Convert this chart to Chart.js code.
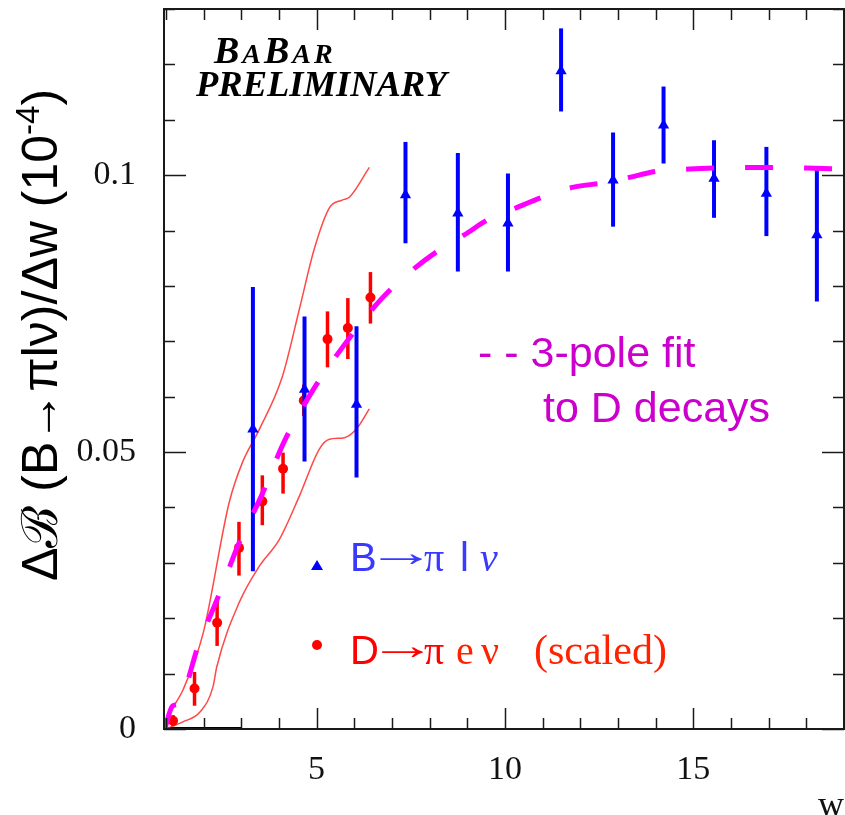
<!DOCTYPE html>
<html><head><meta charset="utf-8">
<script src="https://cdn.jsdelivr.net/npm/chart.js@4.4.1/dist/chart.umd.min.js"></script>
<style>html,body{margin:0;padding:0;background:#fff;overflow:hidden}</style>
</head><body>
<canvas id="c" width="845" height="815" style="width:845px;height:815px;display:block"></canvas>
<script>
// ---- data ----
const bX  = [3.31, 4.68, 6.06, 7.36, 8.75, 10.08, 11.49, 12.87, 14.21, 15.55, 16.94, 18.28];
const bY  = [0.0541, 0.0613, 0.0586, 0.0964, 0.0931, 0.0913, 0.1188, 0.0991, 0.1090, 0.0994, 0.0967, 0.0892];
const bLo = [0.0285, 0.0483, 0.0454, 0.0877, 0.0826, 0.0826, 0.1115, 0.0907, 0.1021, 0.0923, 0.0890, 0.0772];
const bHi = [0.0798, 0.0745, 0.0727, 0.1060, 0.1040, 0.1003, 0.1265, 0.1077, 0.1160, 0.1063, 0.1051, 0.1013];

const dX  = [1.19, 1.76, 2.36, 2.94, 3.56, 4.11, 4.66, 5.29, 5.83, 6.43];
const dY  = [0.0015, 0.0073, 0.0192, 0.0327, 0.0411, 0.0470, 0.0593, 0.0704, 0.0724, 0.0779];
const dLo = [0.0005, 0.0042, 0.0150, 0.0277, 0.0368, 0.0425, 0.0565, 0.0653, 0.0668, 0.0732];
const dHi = [0.0025, 0.0103, 0.0231, 0.0374, 0.0458, 0.0499, 0.0622, 0.0754, 0.0778, 0.0825];

const fitX = [0.97, 1.17, 1.33, 1.89, 2.36, 2.95, 3.53, 4.14, 4.86, 5.74, 6.74, 7.64, 8.26, 8.92, 9.53, 10.30, 10.99, 11.79, 12.72, 13.30, 14.04, 14.89, 15.61, 16.43, 17.20, 18.00, 19.00];
const fitY = [0.0000, 0.0041, 0.0046, 0.0157, 0.0234, 0.0337, 0.0420, 0.0519, 0.0607, 0.0694, 0.0778, 0.0834, 0.0865, 0.0892, 0.0919, 0.0941, 0.0960, 0.0978, 0.0987, 0.0996, 0.1007, 0.1011, 0.1013, 0.1014, 0.1014, 0.1013, 0.1011];

const upX = [0.97, 1.11, 1.45, 1.99, 2.68, 3.03, 3.48, 4.09, 4.54, 4.94, 5.34, 5.68, 5.87, 6.40];
const upY = [0.0004, 0.0029, 0.0070, 0.0173, 0.0409, 0.0481, 0.0541, 0.0636, 0.0757, 0.0867, 0.0941, 0.0955, 0.0960, 0.1014];
const loX = [1.02, 1.45, 1.91, 2.25, 2.35, 2.95, 3.48, 4.01, 4.54, 5.07, 5.34, 5.74, 6.05, 6.40];
const loY = [0.0001, 0.0013, 0.0031, 0.0076, 0.0112, 0.0229, 0.0294, 0.0342, 0.0420, 0.0505, 0.0523, 0.0526, 0.0541, 0.0578];

const baseX = [0.95, 3.0];
const baseY = [0, 0];

const xTicks = [1,2,3,4,5,6,7,8,9,10,11,12,13,14,15,16,17,18,19];
const xTickLabels = [5, 10, 15];
const yTicks = [0,0.01,0.02,0.03,0.04,0.05,0.06,0.07,0.08,0.09,0.1,0.11,0.12,0.13];
const yTickLabels = [0, 0.05, 0.1];

const pts = (xs, ys) => xs.map((x, i) => ({x, y: ys[i]}));

const SANS = '"Liberation Sans", Arial, sans-serif';
const SERIF = '"Liberation Serif", "Times New Roman", serif';

// error bars drawn just before the dataset they belong to
const errorBars = {
  id: 'errorBars',
  beforeDatasetDraw(chart, args) {
    const ds = chart.data.datasets[args.index];
    if (!ds.err) return;
    const {xs, lo, hi, color, width} = ds.err;
    const sx = chart.scales.x, sy = chart.scales.y, ctx = chart.ctx;
    const a = chart.chartArea;
    ctx.save();
    ctx.beginPath();
    ctx.rect(a.left, a.top, a.right - a.left, a.bottom - a.top);
    ctx.clip();
    ctx.strokeStyle = color; ctx.lineWidth = width; ctx.lineCap = 'butt';
    xs.forEach((x, i) => {
      const px = sx.getPixelForValue(x);
      ctx.beginPath();
      ctx.moveTo(px, sy.getPixelForValue(lo[i]));
      ctx.lineTo(px, sy.getPixelForValue(hi[i]));
      ctx.stroke();
    });
    ctx.restore();
  }
};

// frame with inward ticks on all four sides
const frame = {
  id: 'frame',
  afterDatasetsDraw(chart) {
    const {ctx, chartArea: a, scales: {x: sx, y: sy}} = chart;
    ctx.save();
    ctx.strokeStyle = '#1a1a1a';
    ctx.lineWidth = 1.5;
    sx.ticks.forEach(t => {
      const px = Math.round(sx.getPixelForValue(t.value)) + 0.5;
      const len = xTickLabels.includes(t.value) ? 21 : 11;
      ctx.beginPath();
      ctx.moveTo(px, a.bottom); ctx.lineTo(px, a.bottom - len);
      ctx.moveTo(px, a.top); ctx.lineTo(px, a.top + len);
      ctx.stroke();
    });
    sy.ticks.forEach(t => {
      const py = Math.round(sy.getPixelForValue(t.value)) + 0.5;
      const len = yTickLabels.includes(t.value) ? 22 : 11;
      ctx.beginPath();
      ctx.moveTo(a.left, py); ctx.lineTo(a.left + len, py);
      ctx.moveTo(a.right, py); ctx.lineTo(a.right - len, py);
      ctx.stroke();
    });
    ctx.lineWidth = 2;
    ctx.strokeRect(a.left, a.top, a.right - a.left, a.bottom - a.top);
    ctx.restore();
  }
};

// draw text pieces: [text, font, color, x, dy, scaleX]
function pieces(ctx, y, list) {
  for (const p of list) {
    ctx.font = p[1];
    if (p[2]) ctx.fillStyle = p[2];
    const sx = p[5] || 1;
    ctx.save();
    ctx.translate(p[3], y + (p[4] || 0));
    ctx.scale(sx, 1);
    ctx.fillText(p[0], 0, 0);
    ctx.restore();
  }
}
function runs(ctx, x, y, parts, spacing) {
  for (const p of parts) {
    ctx.font = p[1];
    if (p[2]) ctx.fillStyle = p[2];
    ctx.fillText(p[0], x, y + (p[3] || 0));
    x += ctx.measureText(p[0]).width + (spacing || 0);
  }
  return x;
}
function runsWidth(ctx, parts) {
  let w = 0;
  for (const p of parts) { ctx.font = p[1]; w += ctx.measureText(p[0]).width; }
  return w;
}

const annotations = {
  id: 'annotations',
  afterDraw(chart) {
    const ctx = chart.ctx;
    ctx.save();
    ctx.textBaseline = 'alphabetic';
    ctx.textAlign = 'left';
    // BaBar preliminary
    ctx.fillStyle = '#000';
    const big = 'italic bold 38px ' + SERIF, small = 'italic bold 28px ' + SERIF;
    runs(ctx, 214, 63, [['B', big], ['A', small], ['B', big], ['A', small], ['R', small]], 3);
    ctx.font = 'italic bold 36.5px ' + SERIF;
    ctx.fillText('PRELIMINARY', 196, 96);

    // fit label
    ctx.fillStyle = '#cc00cc';
    ctx.font = '43px ' + SANS;
    ctx.fillText('- - 3-pole fit', 478, 367);
    ctx.fillText('to D decays', 543, 422);

    // B -> pi l nu entry
    ctx.fillStyle = '#0000ff';
    ctx.beginPath();
    ctx.moveTo(317, 560); ctx.lineTo(323, 570); ctx.lineTo(311, 570); ctx.closePath(); ctx.fill();
    const L = 40;
    pieces(ctx, 571, [
      ['B', L + 'px ' + SANS, '#3a3aff', 350],
      ['\u2192', L + 'px ' + SERIF, null, 366, -5, 1.75],
      ['\u03c0', L + 'px ' + SERIF, null, 424],
      ['l', L + 'px ' + SANS, null, 460],
      ['\u03bd', 'italic ' + L + 'px ' + SERIF, null, 480]
    ]);

    // D -> pi e nu entry
    ctx.fillStyle = '#ff0000';
    ctx.beginPath(); ctx.arc(317, 645, 5, 0, Math.PI * 2); ctx.fill();
    pieces(ctx, 664, [
      ['D', L + 'px ' + SANS, '#ff0000', 350],
      ['\u2192', L + 'px ' + SERIF, null, 368, -5, 1.72],
      ['\u03c0', L + 'px ' + SERIF, null, 424],
      ['e', L + 'px ' + SERIF, '#ff2200', 456],
      ['\u03bd', L + 'px ' + SERIF, null, 481],
      ['(scaled)', '42px ' + SERIF, null, 534]
    ]);

    // y axis title, rotated
    const T = 50;
    const parts = [
      ['\u0394', T + 'px ' + SANS, '#000'],
      ['\u212c', T + 'px "DejaVu Serif", serif'],
      [' (B\u2192\u03c0l\u03bd)/\u0394w (10', T + 'px ' + SANS],
      ['-4', Math.round(T * 0.66) + 'px ' + SANS, null, -18],
      [')', T + 'px ' + SANS]
    ];
    const w = runsWidth(ctx, parts);
    ctx.translate(57, 335);
    ctx.rotate(-Math.PI / 2);
    runs(ctx, -w / 2, 0, parts);
    ctx.restore();
  }
};

const zeroPad = s => { s.paddingTop = 0; s.paddingBottom = 0; s.paddingLeft = 0; s.paddingRight = 0; };

new Chart(document.getElementById('c'), {
  type: 'scatter',
  data: {
    datasets: [
      { label: '3-pole fit', data: pts(fitX, fitY), showLine: true, borderColor: '#ff00ff', borderWidth: 5,
        borderDash: [28, 31], borderCapStyle: 'butt', pointRadius: 0, cubicInterpolationMode: 'monotone', fill: false },
      { label: 'B\u2192\u03c0l\u03bd', data: pts(bX, bY), pointStyle: 'triangle', pointRadius: 6.5,
        backgroundColor: '#0000ff', borderColor: '#0000ff', borderWidth: 0,
        err: {xs: bX, lo: bLo, hi: bHi, color: '#0000ff', width: 4} },
      { label: 'D\u2192\u03c0e\u03bd (scaled)', data: pts(dX, dY), pointStyle: 'circle', pointRadius: 5,
        backgroundColor: '#ff0000', borderColor: '#ff0000', borderWidth: 0,
        err: {xs: dX, lo: dLo, hi: dHi, color: '#ff0000', width: 3.5} },
      { label: 'upper', data: pts(upX, upY), showLine: true, borderColor: 'rgba(255,40,40,0.85)', borderWidth: 1.5,
        pointRadius: 0, cubicInterpolationMode: 'monotone', fill: false },
      { label: 'lower', data: pts(loX, loY), showLine: true, borderColor: 'rgba(255,40,40,0.85)', borderWidth: 1.5,
        pointRadius: 0, cubicInterpolationMode: 'monotone', fill: false },
      { label: 'base', data: pts(baseX, baseY), showLine: true, borderColor: '#000', borderWidth: 4,
        pointRadius: 0, fill: false }
    ]
  },
  options: {
    responsive: false,
    animation: false,
    events: [],
    layout: { autoPadding: false, padding: { top: 9, right: 1, left: 0, bottom: 0 } },
    plugins: { legend: { display: false }, tooltip: { enabled: false } },
    scales: {
      x: {
        type: 'linear', min: 0.95, max: 19.0,
        afterFit: s => { s.height = 86; zeroPad(s); },
        afterBuildTicks: s => { s.ticks = xTicks.map(v => ({value: v})); },
        grid: { display: false, drawTicks: false }, border: { display: false },
        ticks: { autoSkip: false, maxRotation: 0, padding: 21, color: '#111',
          font: { family: SERIF, size: 34 },
          callback: v => xTickLabels.includes(v) ? String(v) : '' },
        title: { display: true, text: 'w', align: 'end', color: '#111',
          font: { family: SERIF, size: 36, lineHeight: 1 }, padding: { top: 0, bottom: -10 } }
      },
      y: {
        type: 'linear', min: 0, max: 0.13,
        afterFit: s => { s.width = 164; zeroPad(s); },
        afterBuildTicks: s => { s.ticks = yTicks.map(v => ({value: v})); },
        grid: { display: false, drawTicks: false }, border: { display: false },
        ticks: { autoSkip: false, padding: 28, color: '#111',
          font: { family: SERIF, size: 34 },
          callback: v => yTickLabels.includes(v) ? String(v) : '' }
      }
    }
  },
  plugins: [errorBars, frame, annotations]
});
</script>
</body></html>
